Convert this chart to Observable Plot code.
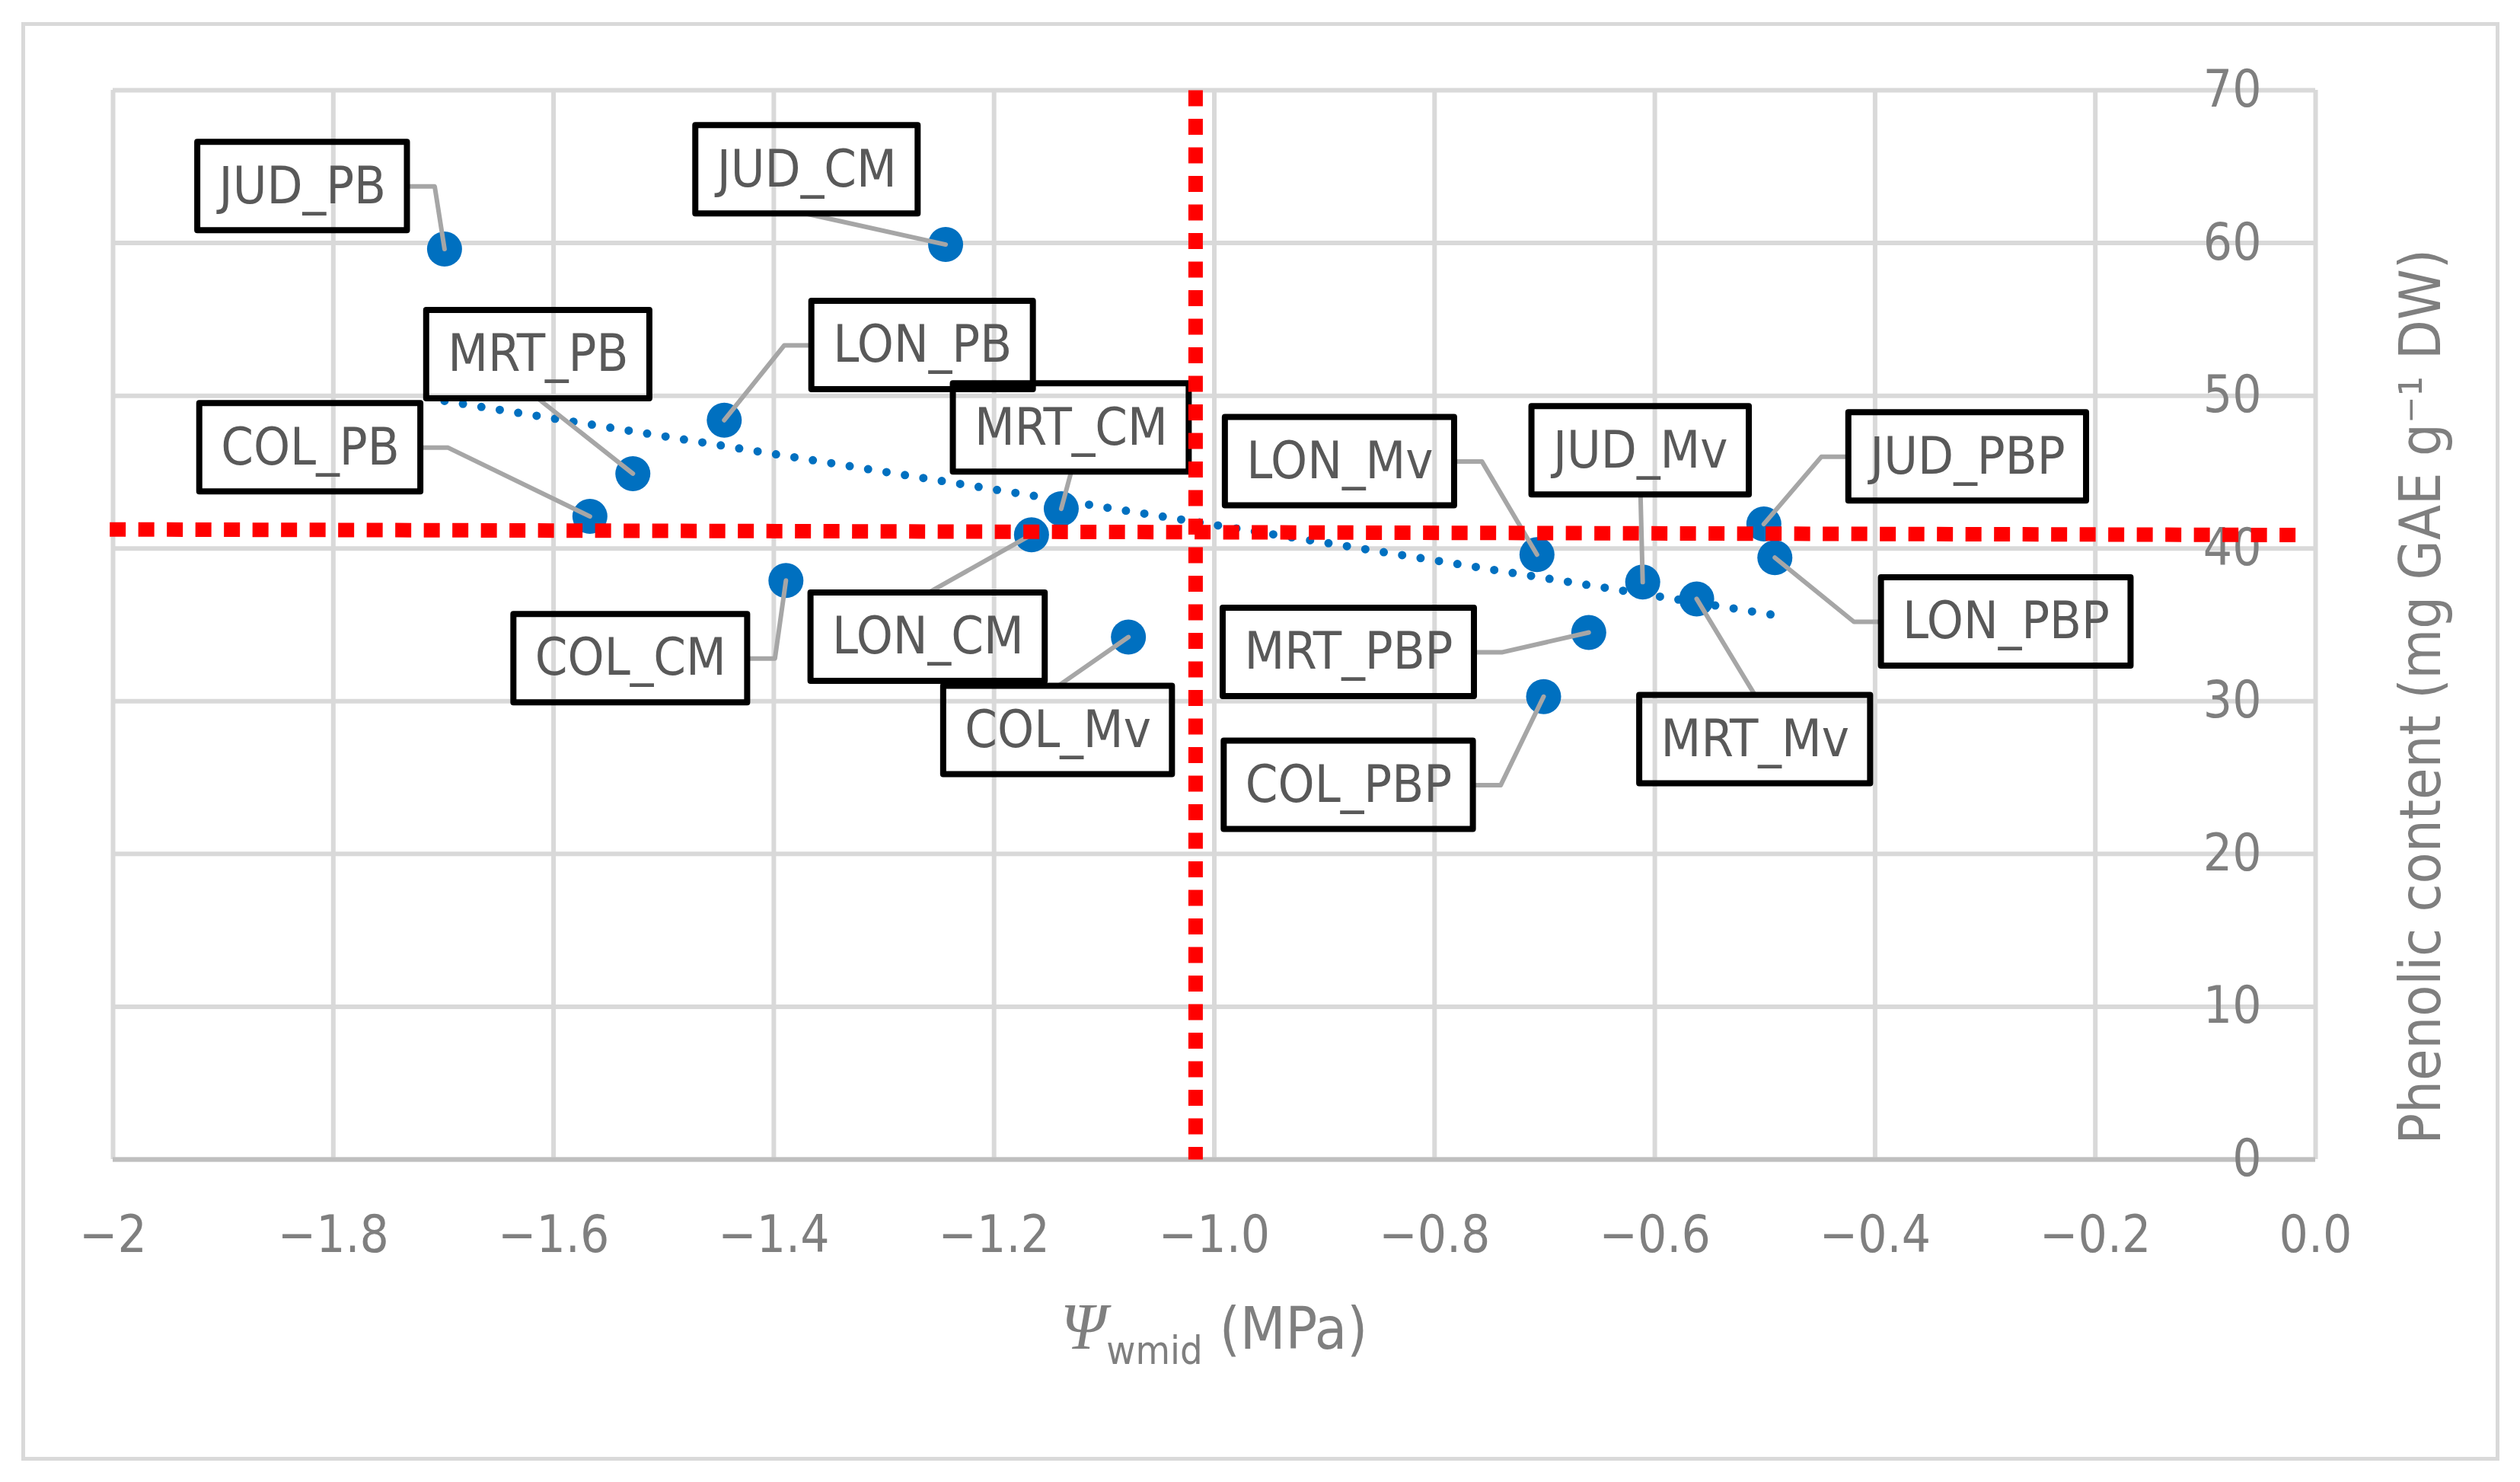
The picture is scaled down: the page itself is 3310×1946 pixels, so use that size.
<!DOCTYPE html>
<html>
<head>
<meta charset="utf-8">
<script src="https://cdn.jsdelivr.net/npm/d3@7"></script>
<script src="https://cdn.jsdelivr.net/npm/@observablehq/plot@0.6"></script>
<style>
  body { margin: 0; background: #fff; }
  #frame { position: absolute; left: 28px; top: 29px; width: 3255px; height: 1889px;
           box-sizing: border-box; border: 5px solid #d9d9d9; }
  #chart { position: absolute; left: 0; top: 0; }
  #xtitle { position: absolute; left: 148px; width: 2893px; top: 1699px; text-align: center;
            font-family: 'DejaVu Sans Condensed', 'Liberation Sans Narrow', 'Open Sans', sans-serif;
            font-size: 77px; line-height: 1; color: #7f7f7f; white-space: nowrap; }
  #xtitle .psi { font-family: 'Liberation Serif', serif; font-style: italic; font-size: 86px; }
  #xtitle .sub { font-size: 52px; position: relative; top: 20px; }
</style>
</head>
<body>
<div id="frame"></div>
<div id="chart"></div>
<div id="xtitle"><span class="psi">Ψ</span><span class="sub">wmid</span> (MPa)</div>
<script>
// samples: water potential at midday vs phenolic content
const names = ["JUD_PB", "JUD_CM", "MRT_PB", "LON_PB", "COL_PB", "MRT_CM", "LON_CM", "COL_CM",
               "COL_Mv", "LON_Mv", "JUD_Mv", "MRT_Mv", "JUD_PBP", "LON_PBP", "MRT_PBP", "COL_PBP"];
const psiWmid = [-1.699, -1.244, -1.528, -1.445, -1.567, -1.139, -1.166, -1.389,
                 -1.078, -0.707, -0.611, -0.562, -0.501, -0.491, -0.660, -0.701];
const phenolic = [59.6, 59.9, 44.9, 48.4, 42.1, 42.6, 40.9, 37.9,
                  34.2, 39.6, 37.8, 36.7, 41.6, 39.4, 34.5, 30.3];

const xTicks = [-2, -1.8, -1.6, -1.4, -1.2, -1.0, -0.8, -0.6, -0.4, -0.2, 0];
const xTickLabels = ["−2", "−1.8", "−1.6", "−1.4", "−1.2", "−1.0", "−0.8", "−0.6", "−0.4", "−0.2", "0.0"];
const yTicks = [0, 10, 20, 30, 40, 50, 60, 70];

// red dashed reference lines (hand drawn on the original)
const refVX = [-1.017, -1.017];
const refVY = [70, 0];
const refHX = [-2.003, -0.01];
const refHY = [41.25, 40.88];

// where each data label box sits (data units) and the side its leader leaves from
const labelX = [-1.828, -1.370, -1.614, -1.265, -1.821, -1.130, -1.260, -1.530,
                -1.142, -0.886, -0.613, -0.509, -0.316, -0.281, -0.878, -0.878];
const labelY = [63.7, 64.8, 52.7, 53.3, 46.6, 47.9, 34.2, 32.8,
                28.1, 45.7, 46.4, 27.5, 46.0, 35.2, 33.2, 24.5];
const labelSide = ["right", "bottom", "bottom", "left", "right", "bottom", "top", "right",
                   "top", "right", "bottom", "top", "left", "left", "right", "right"];

const yTitle = "Phenolic content (mg GAE g⁻¹ DW)";

const FONT = "'DejaVu Sans Condensed', 'Liberation Sans Narrow', 'Open Sans', sans-serif";
const W = 3310, H = 1690;
const mL = 148, mR = 269, mT = 118, mB = H - 1522;
const ux = 2 / (W - mL - mR), uy = 70 / (H - mT - mB); // data units per pixel

const ctx = document.createElement("canvas").getContext("2d");
ctx.font = `68px ${FONT}`;

const points = names.map((n, i) => ({name: n, x: psiWmid[i], y: phenolic[i]}));

const labels = points.map((p, i) => ({
  ...p, lx: labelX[i], ly: labelY[i], side: labelSide[i],
  hw: ctx.measureText(p.name).width / 2 + 28, hh: 58
}));

const leaders = [];
labels.forEach(l => {
  if (l.side === "left" || l.side === "right") {
    const s = l.side === "right" ? 1 : -1;
    const ax = l.lx + s * l.hw * ux, ex = ax + s * 36 * ux;
    leaders.push({k: l.name, x: ax, y: l.ly}, {k: l.name, x: ex, y: l.ly}, {k: l.name, x: l.x, y: l.y});
  } else {
    const s = l.side === "top" ? 1 : -1;
    leaders.push({k: l.name, x: l.lx, y: l.ly + s * l.hh * uy}, {k: l.name, x: l.x, y: l.y});
  }
});

const refV = refVX.map((x, i) => ({x, y: refVY[i]}));
const refH = refHX.map((x, i) => ({x, y: refHY[i]}));

const chart = Plot.plot({
  width: W,
  height: H,
  marginLeft: mL, marginRight: mR, marginTop: mT, marginBottom: mB,
  x: {domain: [-2, 0]},
  y: {domain: [0, 70]},
  style: {background: "none", overflow: "visible", fontFamily: FONT},
  marks: [
    Plot.gridX(xTicks, {stroke: "#d9d9d9", strokeOpacity: 1, strokeWidth: 6}),
    Plot.gridY(yTicks, {stroke: "#d9d9d9", strokeOpacity: 1, strokeWidth: 6}),
    Plot.ruleY([0], {stroke: "#bfbfbf", strokeWidth: 6}),
    Plot.axisX(xTicks, {
      tickSize: 0, tickPadding: 74, fontSize: 67, fill: "#7f7f7f", label: null,
      tickFormat: d => xTickLabels[xTicks.indexOf(d)]
    }),
    Plot.axisY(yTicks, {
      anchor: "right", tickSize: 0, tickPadding: -71, textAnchor: "end",
      fontSize: 67, fill: "#7f7f7f", label: null
    }),
    Plot.text([yTitle], {
      x: () => 139 * ux, y: () => 30.3, text: d => d, rotate: -90,
      fontSize: 75, fill: "#7f7f7f", fontFamily: FONT
    }),
    Plot.dot(points, {x: "x", y: "y", r: 23, fill: "#0070c0"}),
    Plot.linearRegressionY(points, {
      x: "x", y: "y", ci: 0, stroke: "#0070c0", strokeWidth: 11,
      strokeDasharray: "0 24.5", strokeLinecap: "round"
    }),
    Plot.line(leaders, {x: "x", y: "y", z: "k", stroke: "#a6a6a6", strokeWidth: 6}),
    Plot.rect(labels, {
      x1: d => d.lx - d.hw * ux, x2: d => d.lx + d.hw * ux,
      y1: d => d.ly - d.hh * uy, y2: d => d.ly + d.hh * uy,
      fill: "none", stroke: "#000", strokeWidth: 8, strokeLinejoin: "round"
    }),
    Plot.text(labels, {x: "lx", y: "ly", text: "name", fontSize: 68, fill: "#595959", fontFamily: FONT}),
    Plot.line(refV, {x: "x", y: "y", stroke: "#ff0000", strokeWidth: 19,
      strokeDasharray: "21 16.5", strokeLinecap: "butt"}),
    Plot.line(refH, {x: "x", y: "y", stroke: "#ff0000", strokeWidth: 19,
      strokeDasharray: "21 16.5", strokeLinecap: "butt"})
  ]
});

d3.select("#chart").append(() => chart);
</script>
</body>
</html>
